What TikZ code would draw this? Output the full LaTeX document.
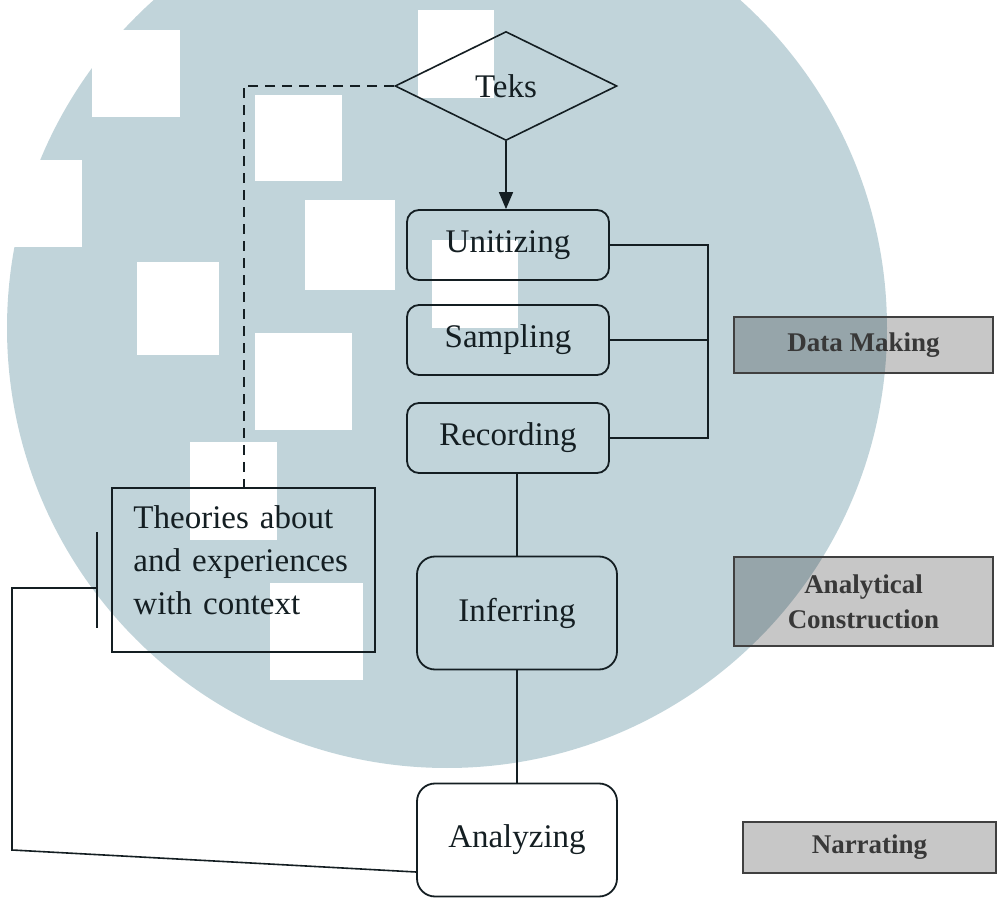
\documentclass[tikz,border=0pt]{standalone}
\usepackage{fontspec}
\setmainfont{Liberation Serif}
\usetikzlibrary{shapes.geometric,arrows.meta}
\definecolor{wmblue}{RGB}{193,212,218}
\definecolor{ink}{RGB}{20,30,34}
\begin{document}
\begin{tikzpicture}[x=0.5pt,y=-0.5pt,
  txt/.style={font=\fontsize{16.5}{21.5}\selectfont,text=ink},
  stage/.style={txt,draw=ink,line width=0.9pt,rounded corners=6pt,minimum width=101pt,minimum height=35pt,inner sep=0pt},
  bigstage/.style={stage,rounded corners=9pt,minimum width=100pt,minimum height=56.5pt},
  phase/.style={draw=black!75,line width=0.8pt,fill=black,fill opacity=0.22,text opacity=1,text=black!78,font=\fontsize{13.5}{17.5}\selectfont\bfseries,align=center,inner sep=0pt},
  line/.style={draw=ink,line width=0.8pt},
  dashline/.style={draw=ink,line width=1pt,dash pattern=on 5pt off 3.5pt}]
\useasboundingbox (0,0) rectangle (998,899);

% watermark
\begin{scope}
\clip (0,0) rectangle (998,899);
\fill[wmblue] (447,328) circle [radius=220pt];
\foreach \x/\y/\w/\h in {418/10/76/88, 255/95/87/86, 305/200/90/90, 137/262/82/93,
  255/333/97/97, 92/30/88/87, 0/160/82/87, 432/240/86/88, 190/442/87/98, 270/583/93/97}
  \fill[white] (\x,\y) rectangle ++(\w,\h);
\end{scope}

\node[txt,diamond,draw=ink,line width=0.8pt,aspect=2,minimum width=111pt,minimum height=54.5pt,inner sep=0pt] (teks) at (506,86) {Teks};

\node[stage] (unit) at (508,245) {Unitizing};
\node[stage] (samp) at (508,340) {Sampling};
\node[stage] (rec) at (508,438) {Recording};
\node[bigstage] (inf) at (517,613) {Inferring};
\node[bigstage] (ana) at (517,840) {Analyzing};

\node[txt,draw=ink,line width=0.8pt,minimum width=131.5pt,minimum height=82pt,text width=110pt,inner xsep=10.5pt,align=left] (theo) at (243.5,570) {Theories about\\and experiences\\with context\par\vspace{10pt}};

\node[phase,minimum width=129.5pt,minimum height=28pt] (dm) at (863.5,345) {Data Making};
\node[phase,minimum width=129.5pt,minimum height=44.5pt] (ac) at (863.5,601.5) {Analytical\\Construction};
\node[phase,minimum width=126.5pt,minimum height=25.5pt] (nar) at (869.5,847.5) {Narrating};

\coordinate (bk) at (708,247);
\coordinate (bartop) at (97,532);
\coordinate (barbot) at (97,628);
\coordinate (barmid) at (97,588);
\coordinate (lp) at (12,850);

\draw[line,-{Triangle[length=8.5pt,width=7pt]}] (teks.south) -- (teks.south |- unit.north);
\draw[line] (unit.east) -- (unit.east -| bk) -- (rec.east -| bk) -- (rec.east);
\draw[line] (samp.east) -- (samp.east -| bk);
\draw[line] (inf.north) -- (inf.north |- rec.south);
\draw[line] (inf.south) -- (ana.north);
\draw[dashline] (teks.west) -| (theo.north);
\draw[line] (bartop) -- (barbot);
\draw[line] ([yshift=-16pt]ana.west) -- (lp) |- (barmid);
\end{tikzpicture}
\end{document}
